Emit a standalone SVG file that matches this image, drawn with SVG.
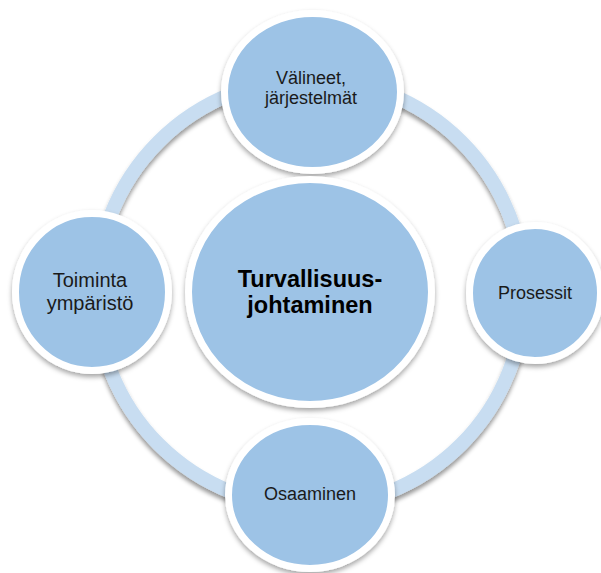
<svg xmlns="http://www.w3.org/2000/svg" width="601" height="573" viewBox="0 0 601 573">
  <defs>
    <filter id="sh" x="-20%" y="-20%" width="140%" height="140%">
      <feDropShadow dx="0" dy="3" stdDeviation="2.5" flood-color="#000" flood-opacity="0.35"/>
    </filter>
    <filter id="rsh" x="-10%" y="-10%" width="120%" height="120%">
      <feDropShadow dx="0" dy="4" stdDeviation="2" flood-color="#000" flood-opacity="0.4"/>
    </filter>
  </defs>
  <style>
    .node { fill: #9dc3e6; stroke: #ffffff; stroke-width: 7; filter: url(#sh); }
    .lbl { font-family: "Liberation Sans", Arial, sans-serif; font-size: 18px; fill: #1a1a1a; text-anchor: middle; }
    .big { font-family: "Liberation Sans", Arial, sans-serif; font-size: 23.5px; font-weight: bold; fill: #000; text-anchor: middle; }
  </style>
  <rect width="601" height="573" fill="#ffffff"/>
  <g id="connectors">
    <circle cx="310" cy="293" r="214" fill="none" stroke="#c8ddf1" stroke-width="14" filter="url(#rsh)"/>
  </g>
  <g id="node-valineet">
    <ellipse class="node" cx="312.5" cy="92" rx="88" ry="78.5"/>
    <text class="lbl" x="311" y="84">Välineet,</text>
    <text class="lbl" x="311" y="104">järjestelmät</text>
  </g>
  <g id="node-toiminta">
    <ellipse class="node" cx="92" cy="292" rx="76.5" ry="78.5"/>
    <text class="lbl" x="90" y="287" style="font-size:20px">Toiminta</text>
    <text class="lbl" x="90" y="310" style="font-size:20px">ympäristö</text>
  </g>
  <g id="node-prosessit">
    <ellipse class="node" cx="535" cy="293" rx="65.5" ry="67.5"/>
    <text class="lbl" x="535" y="299">Prosessit</text>
  </g>
  <g id="node-osaaminen">
    <ellipse class="node" cx="310" cy="495" rx="81.5" ry="73.5"/>
    <text class="lbl" x="310" y="500">Osaaminen</text>
  </g>
  <g id="node-center">
    <ellipse class="node" cx="310" cy="292" rx="121.5" ry="112.5"/>
    <text class="big" x="310" y="287">Turvallisuus-</text>
    <text class="big" x="310" y="313">johtaminen</text>
  </g>
</svg>
